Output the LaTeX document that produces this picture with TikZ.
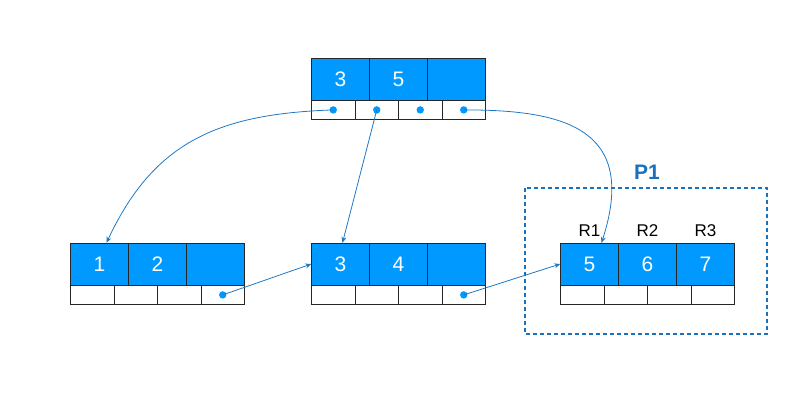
\documentclass[tikz,border=0pt]{standalone}
\usepackage{fontspec}
\setmainfont{Liberation Sans}
\usetikzlibrary{matrix, positioning, arrows.meta}
\definecolor{keyblue}{HTML}{0099FF}
\definecolor{linkblue}{HTML}{1F78C4}
\definecolor{boxblue}{HTML}{1A72BC}

\begin{document}
\begin{tikzpicture}[
    x=1pt, y=-1pt,
    keyrow/.style={matrix of nodes, nodes in empty cells, inner sep=0pt, column sep=-\pgflinewidth,
      nodes={draw=black!85, fill=keyblue, text=white, anchor=center, inner sep=0pt, minimum width=58pt, minimum height=42pt, font=\fontsize{21}{24}\selectfont}},
    ptrrow/.style={matrix of nodes, nodes in empty cells, inner sep=0pt, column sep=-\pgflinewidth,
      nodes={draw=black!85, fill=white, anchor=center, inner sep=0pt, minimum width=43.5pt, minimum height=19pt}},
    link/.style={draw=linkblue, line width=0.8pt, -{Stealth[length=6pt, width=5pt]}},
    dot/.style={fill=keyblue}
  ]
  \useasboundingbox (0,0) rectangle (801,400);

  % root page
  \matrix (root) [keyrow] at (398.5,79) { 3 & 5 & \\ };
  \matrix (rootp) [ptrrow, below=-\pgflinewidth of root] { & & & \\ };

  % leaf pages
  \matrix (leafl) [keyrow] at (157.5,264) { 1 & 2 & \\ };
  \matrix (leaflp) [ptrrow, below=-\pgflinewidth of leafl] { & & & \\ };

  \matrix (leafm) [keyrow] at (398.5,264) { 3 & 4 & \\ };
  \matrix (leafmp) [ptrrow, below=-\pgflinewidth of leafm] { & & & \\ };

  \matrix (leafr) [keyrow] at (647.5,264) { 5 & 6 & 7 \\ };
  \matrix (leafrp) [ptrrow, below=-\pgflinewidth of leafr] { & & & \\ };

  \foreach \i in {1,2,3} {
      \node[above=3pt of leafr-1-\i, font=\fontsize{17}{20}\selectfont] (r\i) {R\i};
    }

  % page P1
  \draw[boxblue, line width=1.6pt, dash pattern=on 4pt off 3pt] (525,188) rectangle (767,334);
  \node[boxblue, font=\fontsize{21}{24}\selectfont\bfseries] (p1) at (647,172) {P1};

  % pointers
  \foreach \j in {1,...,4} {
      \fill[dot] (rootp-1-\j) circle (3.7pt);
    }
  \fill[dot] (leaflp-1-4) circle (3.7pt);
  \fill[dot] (leafmp-1-4) circle (3.7pt);

  \draw[link] (rootp-1-1.center) to[out=182, in=65, looseness=1.1] ([xshift=7pt]leafl-1-1.north);
  \draw[link] (rootp-1-2.center) -- ([xshift=2pt]leafm-1-1.north);
  \draw[link] (rootp-1-4.center) to[out=0, in=72, out distance=96pt, in distance=123pt] ([xshift=12pt]leafr-1-1.north);
  \draw[link] (leaflp-1-4.center) -- (leafm-1-1.west);
  \draw[link] (leafmp-1-4.center) -- (leafr-1-1.west);

\end{tikzpicture}
\end{document}
